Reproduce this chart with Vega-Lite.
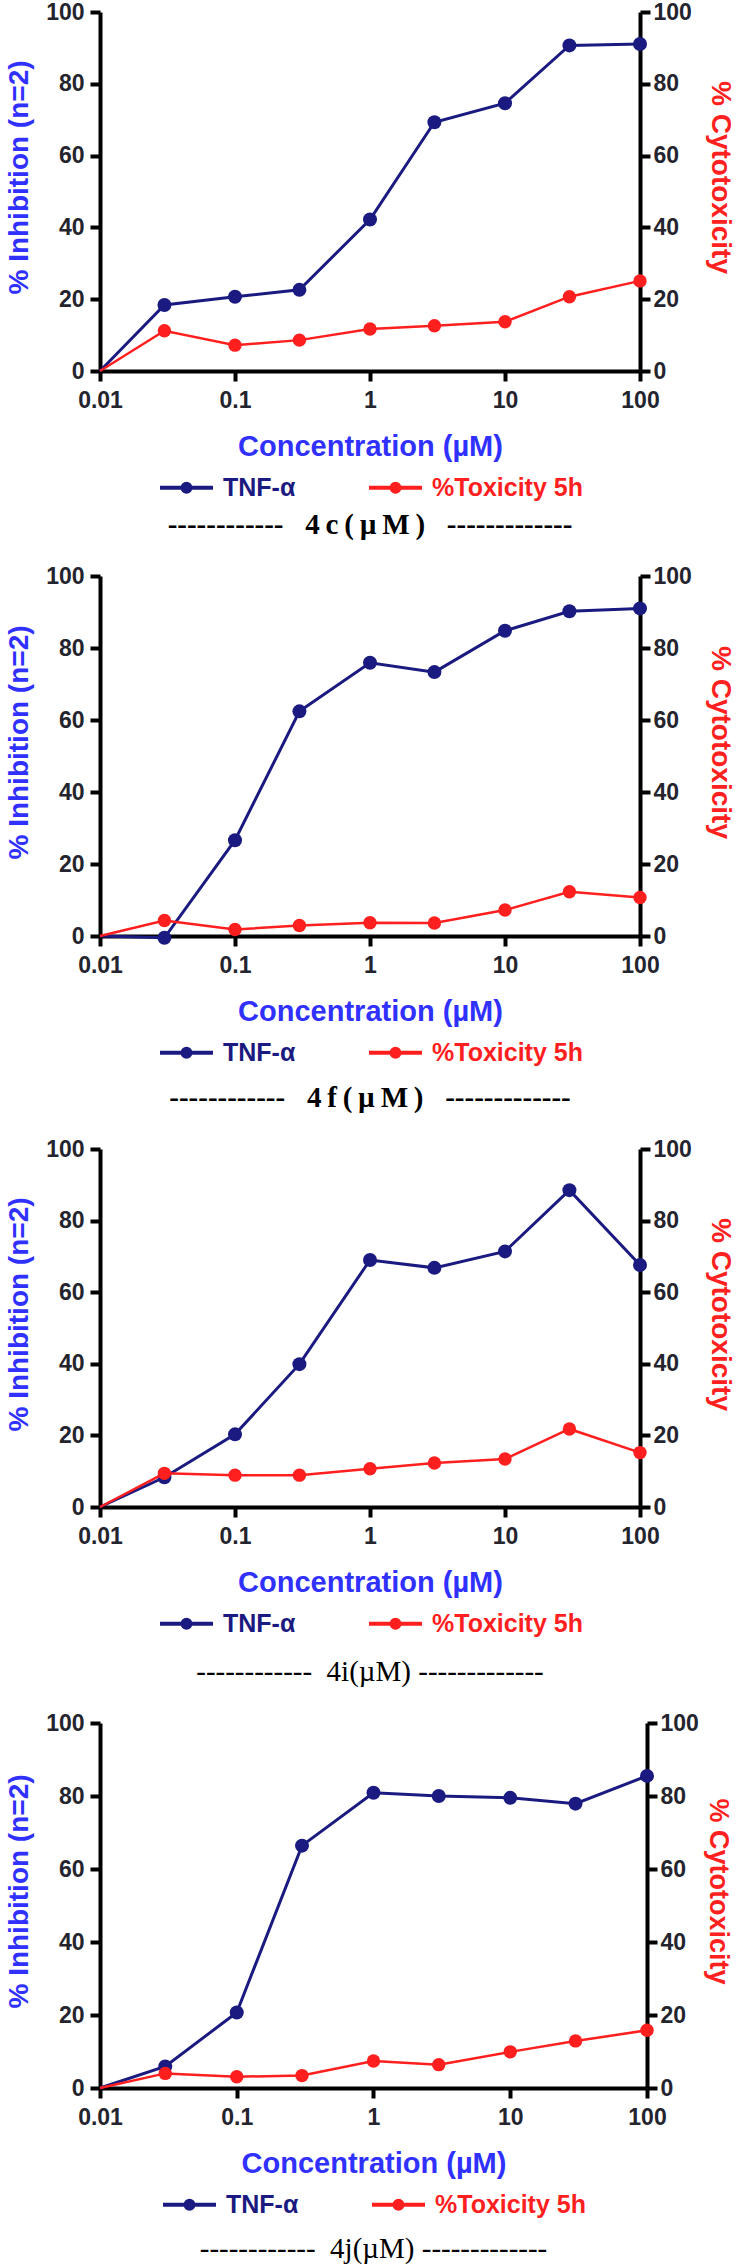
{
 "$schema": "https://vega.github.io/schema/vega-lite/v6.json",
 "padding": {"left": 5, "top": 1, "right": 0, "bottom": 0},
 "background": "white",
 "spacing": 25,
 "datasets": {
  "d": [
   {"cpd":"4c","series":"TNF-α","conc":0.01,"value":0},
   {"cpd":"4c","series":"TNF-α","conc":0.03,"value":18.4},
   {"cpd":"4c","series":"TNF-α","conc":0.1,"value":20.7},
   {"cpd":"4c","series":"TNF-α","conc":0.3,"value":22.6},
   {"cpd":"4c","series":"TNF-α","conc":1,"value":42.2},
   {"cpd":"4c","series":"TNF-α","conc":3,"value":69.3},
   {"cpd":"4c","series":"TNF-α","conc":10,"value":74.6},
   {"cpd":"4c","series":"TNF-α","conc":30,"value":90.7},
   {"cpd":"4c","series":"TNF-α","conc":100,"value":91.1},
   {"cpd":"4c","series":"%Toxicity 5h","conc":0.01,"value":0},
   {"cpd":"4c","series":"%Toxicity 5h","conc":0.03,"value":11.2},
   {"cpd":"4c","series":"%Toxicity 5h","conc":0.1,"value":7.2},
   {"cpd":"4c","series":"%Toxicity 5h","conc":0.3,"value":8.6},
   {"cpd":"4c","series":"%Toxicity 5h","conc":1,"value":11.7},
   {"cpd":"4c","series":"%Toxicity 5h","conc":3,"value":12.6},
   {"cpd":"4c","series":"%Toxicity 5h","conc":10,"value":13.7},
   {"cpd":"4c","series":"%Toxicity 5h","conc":30,"value":20.7},
   {"cpd":"4c","series":"%Toxicity 5h","conc":100,"value":25.1},
   {"cpd":"4f","series":"TNF-α","conc":0.01,"value":0},
   {"cpd":"4f","series":"TNF-α","conc":0.03,"value":-0.5},
   {"cpd":"4f","series":"TNF-α","conc":0.1,"value":26.6},
   {"cpd":"4f","series":"TNF-α","conc":0.3,"value":62.4},
   {"cpd":"4f","series":"TNF-α","conc":1,"value":75.9},
   {"cpd":"4f","series":"TNF-α","conc":3,"value":73.3},
   {"cpd":"4f","series":"TNF-α","conc":10,"value":84.8},
   {"cpd":"4f","series":"TNF-α","conc":30,"value":90.2},
   {"cpd":"4f","series":"TNF-α","conc":100,"value":91.0},
   {"cpd":"4f","series":"%Toxicity 5h","conc":0.01,"value":0},
   {"cpd":"4f","series":"%Toxicity 5h","conc":0.03,"value":4.3},
   {"cpd":"4f","series":"%Toxicity 5h","conc":0.1,"value":1.8},
   {"cpd":"4f","series":"%Toxicity 5h","conc":0.3,"value":2.9},
   {"cpd":"4f","series":"%Toxicity 5h","conc":1,"value":3.7},
   {"cpd":"4f","series":"%Toxicity 5h","conc":3,"value":3.6},
   {"cpd":"4f","series":"%Toxicity 5h","conc":10,"value":7.2},
   {"cpd":"4f","series":"%Toxicity 5h","conc":30,"value":12.3},
   {"cpd":"4f","series":"%Toxicity 5h","conc":100,"value":10.7},
   {"cpd":"4i","series":"TNF-α","conc":0.01,"value":0},
   {"cpd":"4i","series":"TNF-α","conc":0.03,"value":8.3},
   {"cpd":"4i","series":"TNF-α","conc":0.1,"value":20.3},
   {"cpd":"4i","series":"TNF-α","conc":0.3,"value":39.9},
   {"cpd":"4i","series":"TNF-α","conc":1,"value":69.0},
   {"cpd":"4i","series":"TNF-α","conc":3,"value":66.8},
   {"cpd":"4i","series":"TNF-α","conc":10,"value":71.4},
   {"cpd":"4i","series":"TNF-α","conc":30,"value":88.5},
   {"cpd":"4i","series":"TNF-α","conc":100,"value":67.6},
   {"cpd":"4i","series":"%Toxicity 5h","conc":0.01,"value":0},
   {"cpd":"4i","series":"%Toxicity 5h","conc":0.03,"value":9.4},
   {"cpd":"4i","series":"%Toxicity 5h","conc":0.1,"value":8.9},
   {"cpd":"4i","series":"%Toxicity 5h","conc":0.3,"value":8.9},
   {"cpd":"4i","series":"%Toxicity 5h","conc":1,"value":10.7},
   {"cpd":"4i","series":"%Toxicity 5h","conc":3,"value":12.3},
   {"cpd":"4i","series":"%Toxicity 5h","conc":10,"value":13.4},
   {"cpd":"4i","series":"%Toxicity 5h","conc":30,"value":21.8},
   {"cpd":"4i","series":"%Toxicity 5h","conc":100,"value":15.2},
   {"cpd":"4j","series":"TNF-α","conc":0.01,"value":0},
   {"cpd":"4j","series":"TNF-α","conc":0.03,"value":5.9},
   {"cpd":"4j","series":"TNF-α","conc":0.1,"value":20.7},
   {"cpd":"4j","series":"TNF-α","conc":0.3,"value":66.4},
   {"cpd":"4j","series":"TNF-α","conc":1,"value":80.9},
   {"cpd":"4j","series":"TNF-α","conc":3,"value":80.0},
   {"cpd":"4j","series":"TNF-α","conc":10,"value":79.5},
   {"cpd":"4j","series":"TNF-α","conc":30,"value":77.9},
   {"cpd":"4j","series":"TNF-α","conc":100,"value":85.5},
   {"cpd":"4j","series":"%Toxicity 5h","conc":0.01,"value":0},
   {"cpd":"4j","series":"%Toxicity 5h","conc":0.03,"value":4.0},
   {"cpd":"4j","series":"%Toxicity 5h","conc":0.1,"value":3.1},
   {"cpd":"4j","series":"%Toxicity 5h","conc":0.3,"value":3.4},
   {"cpd":"4j","series":"%Toxicity 5h","conc":1,"value":7.4},
   {"cpd":"4j","series":"%Toxicity 5h","conc":3,"value":6.4},
   {"cpd":"4j","series":"%Toxicity 5h","conc":10,"value":9.9},
   {"cpd":"4j","series":"%Toxicity 5h","conc":30,"value":12.9},
   {"cpd":"4j","series":"%Toxicity 5h","conc":100,"value":15.8}
  ],
  "ic": [
   {"cpd":"4c","label":"IC₅₀= 1.8 µM"},
   {"cpd":"4f","label":"IC₅₀= 0.2 µM"},
   {"cpd":"4i","label":"IC₅₀= 0.5 µM"},
   {"cpd":"4j","label":"IC₅₀= 0.2 µM"}
  ]
 },
 "config": {
  "view": {"stroke": null},
  "font": "Liberation Sans",
  "axis": {"domainColor":"#000","domainWidth":4,"tickColor":"#000","tickWidth":4,"tickSize":10,"grid":false,"labelFont":"Liberation Sans","labelFontSize":23,"labelFontWeight":"bold","labelColor":"#24242e","labelFlush":false,"labelOverlap":false,"titleFont":"Liberation Sans","titleFontWeight":"bold"},
  "legend": {"orient":"bottom","direction":"horizontal","symbolType":"M-1,0H1M0.15,0A0.15,0.15 0 1,1 -0.15,0A0.15,0.15 0 1,1 0.15,0","symbolSize":2809,"symbolStrokeWidth":4,"labelFont":"Liberation Sans","labelFontSize":25,"labelFontWeight":"bold","labelOffset":8,"columnPadding":65,"offset":-2,"labelLimit":400,"symbolOpacity":1,"layout":{"bottom":{"anchor":"middle"}}}
 },
 "resolve": {"scale": {"x":"independent","y":"independent","color":"independent"}, "legend": {"color":"independent"}, "axis": {"x":"independent","y":"independent"}},
 "vconcat": [
  {
   "width": 540, "height": 359,
   "title": {"text": "------------\u00a0\u00a0 4\u2009c\u2009(\u2009µ\u2009M\u2009)\u00a0\u00a0 -------------", "orient":"bottom","anchor":"middle","frame":"group","font":"Liberation Serif","fontWeight":"bold","fontSize":29,"color":"#000","offset":10},
   "data": {"name":"d"},
   "transform": [{"filter":"datum.cpd === '4c'"}],
   "encoding": {"x": {"field":"conc","type":"quantitative","scale":{"type":"log","domain":[0.01,100],"nice":false},"axis":{"title":"Concentration (µM)","titleColor":"#3030ff","titleFontSize":29,"titlePadding":20,"values":[0.01,0.1,1,10,100],"format":"~g","labelPadding":8}}},
   "layer": [
    {"transform":[{"filter":"datum.series === 'TNF-α'"}],
     "encoding":{"y":{"field":"value","type":"quantitative","scale":{"domain":[0,100],"nice":false},"axis":{"orient":"left","title":"% Inhibition (n=2)","titleColor":"#3030ff","titleFontSize":28,"titlePadding":12,"titleY":165,"values":[0,20,40,60,80,100],"labelPadding":6}},
       "color":{"field":"series","type":"nominal","scale":{"domain":["TNF-α","%Toxicity 5h"],"range":["#1a1a80","#ff1f1f"]},"legend":{"title":null,"encode":{"symbols":{"update":{"fill":{"signal":"datum.value === 'TNF-α' ? '#1a1a80' : '#ff1f1f'"},"stroke":{"signal":"datum.value === 'TNF-α' ? '#1a1a80' : '#ff1f1f'"}}},"labels":{"update":{"fill":{"signal":"datum.value === 'TNF-α' ? '#1a1a80' : '#ff1f1f'"}}}}}}},
     "layer":[{"mark":{"type":"line","strokeWidth":3}},{"transform":[{"filter":"datum.conc > 0.01"}],"mark":{"type":"point","filled":true,"size":196,"opacity":1}}]},
    {"transform":[{"filter":"datum.series === '%Toxicity 5h'"}],
     "encoding":{"y":{"field":"value","type":"quantitative","scale":{"domain":[0,100],"nice":false},"axis":{"orient":"right","title":"% Cytotoxicity","titleColor":"#ff2020","titleFontSize":28,"titlePadding":14,"titleY":165,"values":[0,20,40,60,80,100],"labelPadding":3}},
       "color":{"field":"series","type":"nominal","scale":{"domain":["TNF-α","%Toxicity 5h"],"range":["#1a1a80","#ff1f1f"]},"legend":{"title":null,"encode":{"symbols":{"update":{"fill":{"signal":"datum.value === 'TNF-α' ? '#1a1a80' : '#ff1f1f'"},"stroke":{"signal":"datum.value === 'TNF-α' ? '#1a1a80' : '#ff1f1f'"}}},"labels":{"update":{"fill":{"signal":"datum.value === 'TNF-α' ? '#1a1a80' : '#ff1f1f'"}}}}}}},
     "layer":[{"mark":{"type":"line","strokeWidth":2.5}},{"transform":[{"filter":"datum.conc > 0.01"}],"mark":{"type":"point","filled":true,"size":180,"opacity":1}}]},
    {"data":{"name":"ic"},"transform":[{"filter":"datum.cpd === '4c'"}],
     "mark":{"type":"text","align":"left","baseline":"alphabetic","font":"Liberation Sans","fontWeight":"bold","fontSize":27,"color":"#2b2b8f"},
     "encoding":{"x":{"datum":0.0131,"type":"quantitative","scale":{"type":"log","domain":[0.01,100],"nice":false},"axis":{"title":"Concentration (µM)","titleColor":"#3030ff","titleFontSize":29,"titlePadding":20,"values":[0.01,0.1,1,10,100],"format":"~g","labelPadding":8}},"y":{"datum":94,"type":"quantitative","scale":{"domain":[0,100],"nice":false},"axis":null},"text":{"field":"label"}}}
   ],
   "resolve": {"scale": {"y":"independent"}}
  },
  {
   "width": 540, "height": 360,
   "title": {"text": "------------\u00a0\u00a0 4\u2009f\u2009(\u2009µ\u2009M\u2009)\u00a0\u00a0 -------------", "orient":"bottom","anchor":"middle","frame":"group","font":"Liberation Serif","fontWeight":"bold","fontSize":29,"color":"#000","offset":18},
   "data": {"name":"d"},
   "transform": [{"filter":"datum.cpd === '4f'"}],
   "encoding": {"x": {"field":"conc","type":"quantitative","scale":{"type":"log","domain":[0.01,100],"nice":false},"axis":{"title":"Concentration (µM)","titleColor":"#3030ff","titleFontSize":29,"titlePadding":20,"values":[0.01,0.1,1,10,100],"format":"~g","labelPadding":8}}},
   "layer": [
    {"transform":[{"filter":"datum.series === 'TNF-α'"}],
     "encoding":{"y":{"field":"value","type":"quantitative","scale":{"domain":[0,100],"nice":false},"axis":{"orient":"left","title":"% Inhibition (n=2)","titleColor":"#3030ff","titleFontSize":28,"titlePadding":12,"titleY":166,"values":[0,20,40,60,80,100],"labelPadding":6}},
       "color":{"field":"series","type":"nominal","scale":{"domain":["TNF-α","%Toxicity 5h"],"range":["#1a1a80","#ff1f1f"]},"legend":{"title":null,"encode":{"symbols":{"update":{"fill":{"signal":"datum.value === 'TNF-α' ? '#1a1a80' : '#ff1f1f'"},"stroke":{"signal":"datum.value === 'TNF-α' ? '#1a1a80' : '#ff1f1f'"}}},"labels":{"update":{"fill":{"signal":"datum.value === 'TNF-α' ? '#1a1a80' : '#ff1f1f'"}}}}}}},
     "layer":[{"mark":{"type":"line","strokeWidth":3}},{"transform":[{"filter":"datum.conc > 0.01"}],"mark":{"type":"point","filled":true,"size":196,"opacity":1}}]},
    {"transform":[{"filter":"datum.series === '%Toxicity 5h'"}],
     "encoding":{"y":{"field":"value","type":"quantitative","scale":{"domain":[0,100],"nice":false},"axis":{"orient":"right","title":"% Cytotoxicity","titleColor":"#ff2020","titleFontSize":28,"titlePadding":14,"titleY":166,"values":[0,20,40,60,80,100],"labelPadding":3}},
       "color":{"field":"series","type":"nominal","scale":{"domain":["TNF-α","%Toxicity 5h"],"range":["#1a1a80","#ff1f1f"]},"legend":{"title":null,"encode":{"symbols":{"update":{"fill":{"signal":"datum.value === 'TNF-α' ? '#1a1a80' : '#ff1f1f'"},"stroke":{"signal":"datum.value === 'TNF-α' ? '#1a1a80' : '#ff1f1f'"}}},"labels":{"update":{"fill":{"signal":"datum.value === 'TNF-α' ? '#1a1a80' : '#ff1f1f'"}}}}}}},
     "layer":[{"mark":{"type":"line","strokeWidth":2.5}},{"transform":[{"filter":"datum.conc > 0.01"}],"mark":{"type":"point","filled":true,"size":180,"opacity":1}}]},
    {"data":{"name":"ic"},"transform":[{"filter":"datum.cpd === '4f'"}],
     "mark":{"type":"text","align":"left","baseline":"alphabetic","font":"Liberation Sans","fontWeight":"bold","fontSize":27,"color":"#2b2b8f"},
     "encoding":{"x":{"datum":0.0131,"type":"quantitative","scale":{"type":"log","domain":[0.01,100],"nice":false},"axis":{"title":"Concentration (µM)","titleColor":"#3030ff","titleFontSize":29,"titlePadding":20,"values":[0.01,0.1,1,10,100],"format":"~g","labelPadding":8}},"y":{"datum":94,"type":"quantitative","scale":{"domain":[0,100],"nice":false},"axis":null},"text":{"field":"label"}}}
   ],
   "resolve": {"scale": {"y":"independent"}}
  },
  {
   "width": 540, "height": 358,
   "title": {"text": "------------\u00a0 4i(µM) -------------", "orient":"bottom","anchor":"middle","frame":"group","font":"Liberation Serif","fontWeight":"normal","fontSize":29,"color":"#000","offset":21},
   "data": {"name":"d"},
   "transform": [{"filter":"datum.cpd === '4i'"}],
   "encoding": {"x": {"field":"conc","type":"quantitative","scale":{"type":"log","domain":[0.01,100],"nice":false},"axis":{"title":"Concentration (µM)","titleColor":"#3030ff","titleFontSize":29,"titlePadding":20,"values":[0.01,0.1,1,10,100],"format":"~g","labelPadding":8}}},
   "layer": [
    {"transform":[{"filter":"datum.series === 'TNF-α'"}],
     "encoding":{"y":{"field":"value","type":"quantitative","scale":{"domain":[0,100],"nice":false},"axis":{"orient":"left","title":"% Inhibition (n=2)","titleColor":"#3030ff","titleFontSize":28,"titlePadding":12,"titleY":165,"values":[0,20,40,60,80,100],"labelPadding":6}},
       "color":{"field":"series","type":"nominal","scale":{"domain":["TNF-α","%Toxicity 5h"],"range":["#1a1a80","#ff1f1f"]},"legend":{"title":null,"encode":{"symbols":{"update":{"fill":{"signal":"datum.value === 'TNF-α' ? '#1a1a80' : '#ff1f1f'"},"stroke":{"signal":"datum.value === 'TNF-α' ? '#1a1a80' : '#ff1f1f'"}}},"labels":{"update":{"fill":{"signal":"datum.value === 'TNF-α' ? '#1a1a80' : '#ff1f1f'"}}}}}}},
     "layer":[{"mark":{"type":"line","strokeWidth":3}},{"transform":[{"filter":"datum.conc > 0.01"}],"mark":{"type":"point","filled":true,"size":196,"opacity":1}}]},
    {"transform":[{"filter":"datum.series === '%Toxicity 5h'"}],
     "encoding":{"y":{"field":"value","type":"quantitative","scale":{"domain":[0,100],"nice":false},"axis":{"orient":"right","title":"% Cytotoxicity","titleColor":"#ff2020","titleFontSize":28,"titlePadding":14,"titleY":165,"values":[0,20,40,60,80,100],"labelPadding":3}},
       "color":{"field":"series","type":"nominal","scale":{"domain":["TNF-α","%Toxicity 5h"],"range":["#1a1a80","#ff1f1f"]},"legend":{"title":null,"encode":{"symbols":{"update":{"fill":{"signal":"datum.value === 'TNF-α' ? '#1a1a80' : '#ff1f1f'"},"stroke":{"signal":"datum.value === 'TNF-α' ? '#1a1a80' : '#ff1f1f'"}}},"labels":{"update":{"fill":{"signal":"datum.value === 'TNF-α' ? '#1a1a80' : '#ff1f1f'"}}}}}}},
     "layer":[{"mark":{"type":"line","strokeWidth":2.5}},{"transform":[{"filter":"datum.conc > 0.01"}],"mark":{"type":"point","filled":true,"size":180,"opacity":1}}]},
    {"data":{"name":"ic"},"transform":[{"filter":"datum.cpd === '4i'"}],
     "mark":{"type":"text","align":"left","baseline":"alphabetic","font":"Liberation Sans","fontWeight":"bold","fontSize":27,"color":"#2b2b8f"},
     "encoding":{"x":{"datum":0.0131,"type":"quantitative","scale":{"type":"log","domain":[0.01,100],"nice":false},"axis":{"title":"Concentration (µM)","titleColor":"#3030ff","titleFontSize":29,"titlePadding":20,"values":[0.01,0.1,1,10,100],"format":"~g","labelPadding":8}},"y":{"datum":94,"type":"quantitative","scale":{"domain":[0,100],"nice":false},"axis":null},"text":{"field":"label"}}}
   ],
   "resolve": {"scale": {"y":"independent"}}
  },
  {
   "width": 547, "height": 365,
   "title": {"text": "------------\u00a0 4j(µM) -------------", "orient":"bottom","anchor":"middle","frame":"group","font":"Liberation Serif","fontWeight":"normal","fontSize":29,"color":"#000","offset":17},
   "data": {"name":"d"},
   "transform": [{"filter":"datum.cpd === '4j'"}],
   "encoding": {"x": {"field":"conc","type":"quantitative","scale":{"type":"log","domain":[0.01,100],"nice":false},"axis":{"title":"Concentration (µM)","titleColor":"#3030ff","titleFontSize":29,"titlePadding":20,"values":[0.01,0.1,1,10,100],"format":"~g","labelPadding":8}}},
   "layer": [
    {"transform":[{"filter":"datum.series === 'TNF-α'"}],
     "encoding":{"y":{"field":"value","type":"quantitative","scale":{"domain":[0,100],"nice":false},"axis":{"orient":"left","title":"% Inhibition (n=2)","titleColor":"#3030ff","titleFontSize":28,"titlePadding":12,"titleY":168,"values":[0,20,40,60,80,100],"labelPadding":6}},
       "color":{"field":"series","type":"nominal","scale":{"domain":["TNF-α","%Toxicity 5h"],"range":["#1a1a80","#ff1f1f"]},"legend":{"title":null,"encode":{"symbols":{"update":{"fill":{"signal":"datum.value === 'TNF-α' ? '#1a1a80' : '#ff1f1f'"},"stroke":{"signal":"datum.value === 'TNF-α' ? '#1a1a80' : '#ff1f1f'"}}},"labels":{"update":{"fill":{"signal":"datum.value === 'TNF-α' ? '#1a1a80' : '#ff1f1f'"}}}}}}},
     "layer":[{"mark":{"type":"line","strokeWidth":3}},{"transform":[{"filter":"datum.conc > 0.01"}],"mark":{"type":"point","filled":true,"size":196,"opacity":1}}]},
    {"transform":[{"filter":"datum.series === '%Toxicity 5h'"}],
     "encoding":{"y":{"field":"value","type":"quantitative","scale":{"domain":[0,100],"nice":false},"axis":{"orient":"right","title":"% Cytotoxicity","titleColor":"#ff2020","titleFontSize":27,"titlePadding":5,"titleY":168,"values":[0,20,40,60,80,100],"labelPadding":3}},
       "color":{"field":"series","type":"nominal","scale":{"domain":["TNF-α","%Toxicity 5h"],"range":["#1a1a80","#ff1f1f"]},"legend":{"title":null,"encode":{"symbols":{"update":{"fill":{"signal":"datum.value === 'TNF-α' ? '#1a1a80' : '#ff1f1f'"},"stroke":{"signal":"datum.value === 'TNF-α' ? '#1a1a80' : '#ff1f1f'"}}},"labels":{"update":{"fill":{"signal":"datum.value === 'TNF-α' ? '#1a1a80' : '#ff1f1f'"}}}}}}},
     "layer":[{"mark":{"type":"line","strokeWidth":2.5}},{"transform":[{"filter":"datum.conc > 0.01"}],"mark":{"type":"point","filled":true,"size":180,"opacity":1}}]},
    {"data":{"name":"ic"},"transform":[{"filter":"datum.cpd === '4j'"}],
     "mark":{"type":"text","align":"left","baseline":"alphabetic","font":"Liberation Sans","fontWeight":"bold","fontSize":27,"color":"#2b2b8f"},
     "encoding":{"x":{"datum":0.0131,"type":"quantitative","scale":{"type":"log","domain":[0.01,100],"nice":false},"axis":{"title":"Concentration (µM)","titleColor":"#3030ff","titleFontSize":29,"titlePadding":20,"values":[0.01,0.1,1,10,100],"format":"~g","labelPadding":8}},"y":{"datum":94,"type":"quantitative","scale":{"domain":[0,100],"nice":false},"axis":null},"text":{"field":"label"}}}
   ],
   "resolve": {"scale": {"y":"independent"}}
  }
 ]
}
